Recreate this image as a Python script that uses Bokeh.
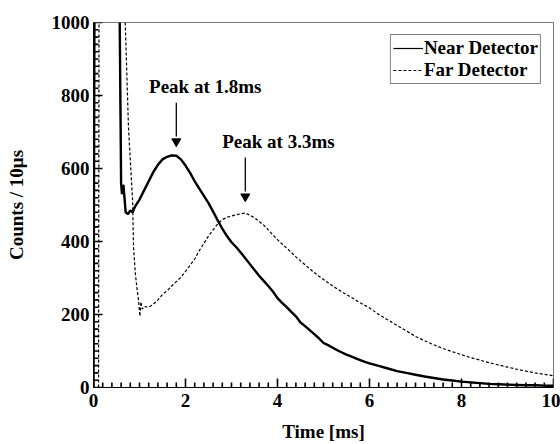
from bokeh.plotting import figure
from bokeh.models import Range1d, Label, Legend, LegendItem, FixedTicker
from bokeh.embed import file_html
from bokeh.resources import INLINE

NAN = float("nan")

# ---- data (values above the 1000 ceiling leave the frame) ----
near_t = [0.0, 0.02, 0.3, 0.57, 0.6, 0.62, 0.65, 0.7, 0.75, 0.8, 0.85, 0.9, 0.95,
          1.0, 1.1, 1.2, 1.3, 1.4, 1.5, 1.6, 1.7, 1.8, 1.9, 2.0, 2.1, 2.2, 2.3, 2.4,
          2.5, 2.6, 2.7, 2.8, 2.9, 3.0, 3.1, 3.2, 3.3, 3.4, 3.5, 3.6, 3.7, 3.8, 3.9,
          4.0, 4.1, 4.2, 4.3, 4.4, 4.5, 4.6, 4.7, 4.8, 4.9, 5.0, 5.1, 5.2, 5.3, 5.4,
          5.5, 5.6, 5.7, 5.8, 5.9, 6.0, 6.2, 6.4, 6.6, 6.8, 7.0, 7.2, 7.4, 7.6, 7.8,
          8.0, 8.2, 8.4, 8.6, 8.8, 9.0, 9.2, 9.4, 9.6, 9.8, 10.0]
near_counts = [0, 1000, NAN, 1000, 560, 530, 555, 480, 475, 485, 480, 495, 505,
               515, 540, 565, 590, 610, 625, 632, 636, 635, 625, 608, 588, 565, 545, 525,
               505, 482, 458, 435, 415, 398, 385, 370, 354, 338, 322, 306, 292, 278, 263,
               245, 232, 220, 207, 195, 178, 168, 157, 146, 135, 122, 116, 109, 102, 96,
               90, 85, 80, 75, 70, 66, 59, 52, 45, 40, 35, 30, 26, 22, 19,
               16, 14, 12, 10, 9, 8, 7, 6, 6, 5, 5]

far_t = [0.0, 0.11, 0.12, 0.4, 0.69, 0.76, 0.85, 0.87, 0.91, 0.95, 0.98, 1.01, 1.03,
         1.06, 1.1, 1.2, 1.3, 1.4, 1.5, 1.6, 1.7, 1.8, 1.9, 2.0, 2.1, 2.2, 2.3, 2.4,
         2.5, 2.6, 2.7, 2.8, 2.9, 3.0, 3.1, 3.2, 3.3, 3.4, 3.5, 3.6, 3.7, 3.8, 3.9,
         4.0, 4.1, 4.2, 4.3, 4.4, 4.5, 4.6, 4.7, 4.8, 4.9, 5.0, 5.2, 5.4, 5.6, 5.8,
         6.0, 6.2, 6.4, 6.6, 6.8, 7.0, 7.2, 7.4, 7.6, 7.8, 8.0, 8.2, 8.4, 8.6, 8.8,
         9.0, 9.2, 9.4, 9.6, 9.8, 10.0]
far_counts = [0, 0, 1000, NAN, 1000, 714, 512, 384, 312, 266, 238, 195, 235,
              215, 222, 220, 228, 240, 255, 265, 278, 290, 302, 318, 335, 352, 375, 395,
              415, 432, 448, 460, 466, 470, 473, 476, 478, 472, 465, 455, 445, 432, 418,
              405, 393, 382, 370, 358, 347, 336, 325, 315, 305, 296, 278, 262, 247, 232,
              218, 200, 185, 170, 155, 140, 128, 117, 107, 98, 90, 82, 75, 68, 62,
              56, 50, 45, 40, 36, 32]

series_names = ["Near Detector", "Far Detector"]
peak_labels = ["Peak at 1.8ms", "Peak at 3.3ms"]
peak_times = [1.8, 3.3]
x_ticks = [0, 2, 4, 6, 8, 10]
y_ticks = [0, 200, 400, 600, 800, 1000]
x_title = "Time [ms]"
y_title = "Counts / 10\u03bcs"

FONT = "Liberation Serif"
FS = "19px"
FRAME_W, FRAME_H = 460, 365
X0, X1, Y0, Y1 = 0.0, 10.0, 0.0, 1000.0
px_x = (X1 - X0) / FRAME_W   # data units per pixel
px_y = (Y1 - Y0) / FRAME_H

p = figure(width=560, height=444, output_backend="svg", toolbar_location=None,
           x_range=Range1d(X0, X1), y_range=Range1d(Y0, Y1),
           min_border_left=93, min_border_right=7, min_border_top=22,
           min_border_bottom=57)
p.outline_line_color = "#777777"
p.xgrid.grid_line_color = None
p.ygrid.grid_line_color = None

# ---- inward ticks (ROOT style), one NaN-broken line ----
def minors(ticks):
    step = (ticks[1] - ticks[0]) / 10
    out = []
    for k in range(int(round((ticks[-1] - ticks[0]) / step)) + 1):
        v = ticks[0] + k * step
        if all(abs(v - t) > 1e-9 for t in ticks):
            out.append(float(v))
    return out

xm = minors(x_ticks)
ym = minors(y_ticks)
tick_x, tick_y = [], []
for xs, ln in ((x_ticks, 9), (xm, 5)):
    for v in xs:
        tick_x += [float(v), float(v), NAN]
        tick_y += [Y0, Y0 + ln * px_y, NAN]
for ys, ln in ((y_ticks, 9), (ym, 5)):
    for v in ys:
        tick_x += [X0, X0 + ln * px_x, NAN]
        tick_y += [float(v), float(v), NAN]
p.line(tick_x, tick_y, line_color="black", line_width=1.6)

# ---- data ----
p.line(near_t, near_counts, line_color="black", line_width=2.4)
r_near = p.line(near_t, near_counts, line_color="black", line_width=1.2)
r_far = p.line(far_t, far_counts, line_color="black", line_width=1.2, line_dash="3 2")

for ax, ticks in ((p.xaxis[0], x_ticks), (p.yaxis[0], y_ticks)):
    ax.ticker = FixedTicker(ticks=ticks)
    ax.major_tick_in = 0
    ax.major_tick_out = 0
    ax.minor_tick_in = 0
    ax.minor_tick_out = 0
    ax.axis_line_color = "black"
    ax.major_label_text_font = FONT
    ax.major_label_text_font_style = "bold"
    ax.major_label_text_font_size = FS
    ax.major_label_text_color = "black"
    ax.axis_label_text_font = FONT
    ax.axis_label_text_font_style = "bold"
    ax.axis_label_text_font_size = FS
    ax.axis_label_text_color = "black"

p.xaxis.axis_label = x_title
p.yaxis.axis_label = y_title
p.xaxis.major_label_standoff = 6
p.xaxis.axis_label_standoff = 11
p.yaxis.major_label_standoff = 4
p.yaxis.axis_label_standoff = 22

# ---- arrows (shaft line + triangular head) and peak labels ----
arrow_tops = [780, 630]
arrow_tips = [663, 512]
HEAD = 9  # px
shaft_x, shaft_y = [], []
for i in range(2):
    shaft_x += [peak_times[i], peak_times[i], NAN]
    shaft_y += [arrow_tops[i], arrow_tips[i] + HEAD * px_y, NAN]
p.line(shaft_x, shaft_y, line_color="black", line_width=1.3)
p.scatter(x=peak_times, y=[t + 0.45 * HEAD * px_y for t in arrow_tips],
          marker="inverted_triangle", size=HEAD, fill_color="black", line_color="black")

label_x = [2.43, 4.02]
label_y = [825, 674]
for i in range(2):
    p.add_layout(Label(x=label_x[i], y=label_y[i], text=peak_labels[i],
                       text_align="center", text_baseline="middle",
                       text_font=FONT, text_font_style="bold", text_font_size=FS,
                       text_color="black"))

legend = Legend(items=[LegendItem(label=series_names[0], renderers=[r_near]),
                       LegendItem(label=series_names[1], renderers=[r_far])],
                location="top_right")
legend.margin = 12
legend.padding = 2
legend.spacing = 0
legend.label_standoff = 1
legend.glyph_width = 30
legend.glyph_height = 16
legend.label_height = 16
legend.label_text_font = FONT
legend.label_text_font_style = "bold"
legend.label_text_font_size = FS
legend.label_text_color = "black"
legend.border_line_color = "black"
legend.border_line_width = 1
legend.background_fill_color = "white"
legend.background_fill_alpha = 1
p.add_layout(legend)

open("out.html", "w").write(file_html(p, INLINE))
